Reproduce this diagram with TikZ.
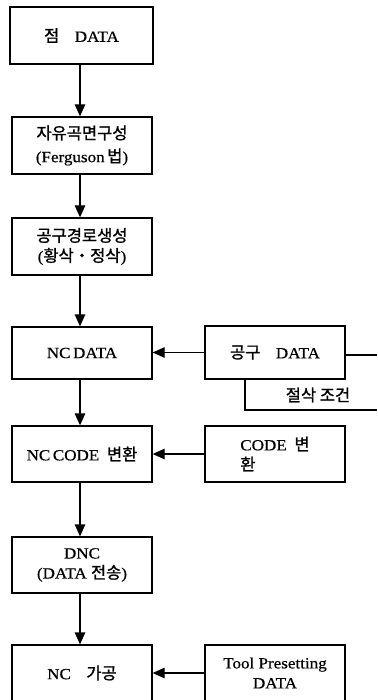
\documentclass[tikz,border=0pt]{standalone}
\usepackage{fontspec}
\setmainfont{Liberation Serif}[FakeStretch=1.1,FakeBold=0.5]
\newfontfamily\kr{Noto Sans CJK KR}[FakeBold=1.2]
\usetikzlibrary{arrows.meta}
% Korean words are set in the CJK family
\newcommand\hk[1]{{\kr\fontsize{16.5}{20}\selectfont #1}}

\begin{document}
\begin{tikzpicture}[x=1pt,y=-1pt,
  box/.style={draw, line width=1.3pt, inner sep=0pt, align=center,
              minimum width=140pt, minimum height=56pt,
              font=\fontsize{15.5}{20}\selectfont},
  flow/.style={line width=1.3pt, -{Triangle[length=12pt,width=10.5pt]}},
  plain/.style={line width=1.3pt}]
\useasboundingbox (0,0) rectangle (377,700);
\clip (0,0) rectangle (377,700);

% main process column
\node[box, minimum width=143pt, minimum height=57pt] (pt) at (81.5,35.5) {\hk{점}\quad DATA};
\node[box, minimum height=57pt] (surf) at (82,145.5) {\hk{자유곡면구성}\\[3pt](Ferguson\,\hk{법})};
\node[box, minimum height=57pt] (path) at (82,246.5) {\hk{공구경로생성}\\(\hk{황삭・정삭})};
\node[box, minimum height=52pt] (ncdata) at (82,353) {NC\,DATA};
\node[box] (nccode) at (82,454) {NC\,CODE\enspace\hk{변환}};
\node[box] (dnc) at (82,565) {DNC\\(DATA \hk{전송})};
\node[box] (ncmach) at (82,673) {NC\quad\hk{가공}};

% side inputs
\node[box, minimum height=53pt] (tool) at (275,352.5) {\hk{공구}\quad DATA};
\node[box, align=left] (conv) at (275,454) {CODE\enspace\hk{변}\\\hk{환}};
\node[box] (preset) at (275,673) {Tool Presetting\\DATA};

% cutting condition bracket
\coordinate (edgeA) at (377,355);
\coordinate (edgeB) at (377,410);
\coordinate (brk) at (245,379);
\node (cut) at (318,395) {\hk{절삭 조건}};
\draw[plain] (tool.east |- edgeA) -- (edgeA);
\draw[plain] (brk) |- (edgeB);

% flow arrows
\draw[flow] (pt.south -| 80,0) -- (surf.north -| 80,0);
\draw[flow] (surf.south -| 80,0) -- (path.north -| 80,0);
\draw[flow] (path.south -| 80,0) -- (ncdata.north -| 80,0);
\draw[flow] (ncdata.south -| 80,0) -- (nccode.north -| 80,0);
\draw[flow] (nccode.south -| 80,0) -- (dnc.north -| 80,0);
\draw[flow] (dnc.south -| 80,0) -- (ncmach.north -| 80,0);

\draw[flow] (tool.west) -- (tool.west -| ncdata.east);
\draw[flow] (conv.west) -- (conv.west -| nccode.east);
\draw[flow] (preset.west) -- (preset.west -| ncmach.east);
\end{tikzpicture}
\end{document}
